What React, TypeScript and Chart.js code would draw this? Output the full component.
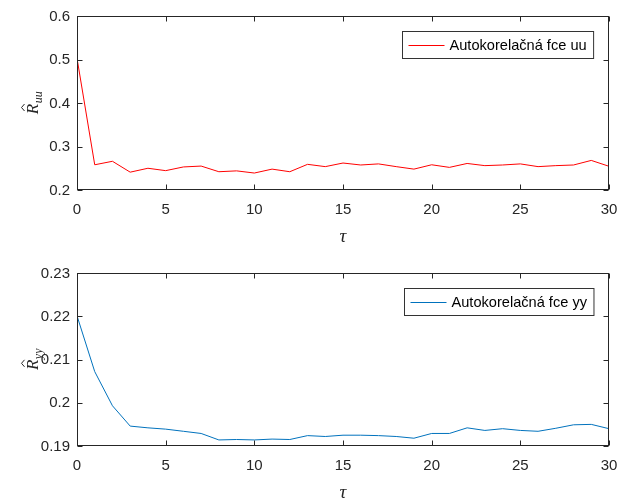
import React, { useEffect, useRef } from "react";
import { Chart, registerables } from "chart.js";

Chart.register(...registerables);

// Lag values
const tau = [0, 1, 2, 3, 4, 5, 6, 7, 8, 9, 10, 11, 12, 13, 14, 15, 16, 17, 18, 19, 20, 21, 22, 23, 24, 25, 26, 27, 28, 29, 30];

// Input autocorrelation estimate
const ruu = [
  0.503, 0.258, 0.266, 0.241, 0.25, 0.2445, 0.253, 0.255, 0.242, 0.244, 0.239,
  0.248, 0.242, 0.259, 0.2537, 0.262, 0.2575, 0.26, 0.2537, 0.248, 0.258,
  0.252, 0.261, 0.256, 0.2575, 0.26, 0.2537, 0.256, 0.2575, 0.268, 0.2545,
];

// Output autocorrelation estimate
const ryy = [
  0.2201, 0.2072, 0.1993, 0.1946, 0.1942, 0.1939, 0.1934, 0.1929, 0.1914,
  0.1915, 0.1914, 0.1916, 0.1915, 0.1924, 0.1922, 0.1925, 0.1925, 0.1924,
  0.1922, 0.1918, 0.1929, 0.1929, 0.1942, 0.1936, 0.194, 0.1936, 0.1934,
  0.1941, 0.1949, 0.195, 0.194,
];

const xTicks = [0, 5, 10, 15, 20, 25, 30];
const yTicksUU = [0.2, 0.3, 0.4, 0.5, 0.6];
const yTicksYY = [0.19, 0.2, 0.21, 0.22, 0.23];

const labelUU = "Autokorelačná fce uu";
const labelYY = "Autokorelačná fce yy";

const AXIS_COLOR = "#262626";
const SANS = "'Liberation Sans', Arial, sans-serif";
const SERIF = "'Liberation Serif', 'DejaVu Serif', serif";

type PanelOpts = {
  values: number[];
  color: string;
  label: string;
  yTicks: number[];
  sub: string;
  padTop: number;
  xHeight: number;
};

// Draws the MATLAB-like box, inward ticks, tick labels, legend and axis labels
const decorPlugin = {
  id: "decor",
  afterDraw(chart: any) {
    const o = chart.options.plugins.decor as PanelOpts;
    const ctx: CanvasRenderingContext2D = chart.ctx;
    const { left, right, top, bottom } = chart.chartArea;
    const L = Math.round(left) + 0.5;
    const R = Math.round(right) - 0.5;
    const T = Math.round(top) + 0.5;
    const B = Math.round(bottom) - 0.5;
    const xs = chart.scales.x;
    const ys = chart.scales.y;

    ctx.save();
    ctx.strokeStyle = AXIS_COLOR;
    ctx.lineWidth = 1;
    ctx.strokeRect(L, T, R - L, B - T);

    const tl = 5;
    ctx.beginPath();
    for (const v of xTicks) {
      const px = Math.round(xs.getPixelForValue(v)) + 0.5;
      ctx.moveTo(px, B);
      ctx.lineTo(px, B - tl);
      ctx.moveTo(px, T);
      ctx.lineTo(px, T + tl);
    }
    for (const v of o.yTicks) {
      const py = Math.round(ys.getPixelForValue(v)) + 0.5;
      ctx.moveTo(L, py);
      ctx.lineTo(L + tl, py);
      ctx.moveTo(R, py);
      ctx.lineTo(R - tl, py);
    }
    ctx.stroke();

    // tick labels
    ctx.fillStyle = AXIS_COLOR;
    ctx.font = `15px ${SANS}`;
    ctx.textBaseline = "middle";
    ctx.textAlign = "center";
    for (const v of xTicks) {
      ctx.fillText(String(v), xs.getPixelForValue(v), bottom + 20);
    }
    ctx.textAlign = "right";
    for (const v of o.yTicks) {
      ctx.fillText(String(v), left - 7, ys.getPixelForValue(v) + 0.5);
    }

    // legend
    ctx.font = `14.6px ${SANS}`;
    const tw = ctx.measureText(o.label).width;
    const boxW = 6 + 36 + 5 + tw + 7;
    const boxH = 27;
    const bx = Math.round(right - 16 - boxW) + 0.5;
    const by = Math.round(top + 15) + 0.5;
    ctx.fillStyle = "#ffffff";
    ctx.fillRect(bx, by, boxW, boxH);
    ctx.strokeStyle = "#333333";
    ctx.strokeRect(bx, by, boxW, boxH);
    const cy = by + boxH / 2;
    ctx.strokeStyle = o.color;
    ctx.beginPath();
    ctx.moveTo(bx + 6, Math.round(cy) + 0.5);
    ctx.lineTo(bx + 42, Math.round(cy) + 0.5);
    ctx.stroke();
    ctx.fillStyle = "#000000";
    ctx.textBaseline = "middle";
    ctx.textAlign = "left";
    ctx.fillText(o.label, bx + 47, cy + 0.5);

    // x-axis label (tau)
    ctx.fillStyle = AXIS_COLOR;
    ctx.font = `italic 19px ${SERIF}`;
    ctx.textAlign = "center";
    ctx.textBaseline = "alphabetic";
    ctx.fillText("τ", (left + right) / 2, bottom + 52);

    // y-axis label: R-hat with subscript
    const cyMid = (top + bottom) / 2;
    ctx.translate(38, cyMid);
    ctx.rotate(-Math.PI / 2);
    ctx.font = `italic 17px ${SERIF}`;
    const wR = ctx.measureText("R").width;
    ctx.font = `italic 12px ${SERIF}`;
    const wS = ctx.measureText(o.sub).width;
    const x0 = -(wR + wS) / 2;
    ctx.textAlign = "left";
    ctx.font = `italic 17px ${SERIF}`;
    ctx.fillText("R", x0, 0);
    ctx.font = `italic 12px ${SERIF}`;
    ctx.fillText(o.sub, x0 + wR + 0.5, 3.5);
    // hat
    const hx = x0 + wR / 2 + 1.5;
    ctx.strokeStyle = AXIS_COLOR;
    ctx.lineWidth = 1;
    ctx.beginPath();
    ctx.moveTo(hx - 3.5, -13.5);
    ctx.lineTo(hx, -16.5);
    ctx.lineTo(hx + 3.5, -13.5);
    ctx.stroke();
    ctx.restore();
  },
};

function makeConfig(o: PanelOpts): any {
  return {
    type: "line",
    data: {
      datasets: [
        {
          label: o.label,
          data: tau.map((t, i) => ({ x: t, y: o.values[i] })),
          borderColor: o.color,
          borderWidth: 1,
          pointRadius: 0,
          tension: 0,
          fill: false,
        },
      ],
    },
    options: {
      responsive: false,
      animation: false,
      events: [],
      layout: { padding: { top: o.padTop, right: 10, left: 0, bottom: 0 } },
      plugins: {
        legend: { display: false },
        tooltip: { enabled: false },
        decor: o,
      },
      scales: {
        x: {
          type: "linear",
          min: 0,
          max: 30,
          grid: { display: false },
          border: { display: false },
          afterBuildTicks: (s: any) => {
            s.ticks = xTicks.map((v) => ({ value: v }));
          },
          afterFit: (s: any) => {
            s.height = o.xHeight;
          },
          ticks: { display: false },
        },
        y: {
          type: "linear",
          min: o.yTicks[0],
          max: o.yTicks[o.yTicks.length - 1],
          grid: { display: false },
          border: { display: false },
          afterBuildTicks: (s: any) => {
            s.ticks = o.yTicks.map((v) => ({ value: v }));
          },
          afterFit: (s: any) => {
            s.width = 77;
          },
          ticks: { display: false },
        },
      },
    },
    plugins: [decorPlugin],
  };
}

function Panel({ opts, height }: { opts: PanelOpts; height: number }) {
  const ref = useRef<HTMLCanvasElement | null>(null);
  useEffect(() => {
    if (!ref.current) return;
    const chart = new Chart(ref.current, makeConfig(opts));
    return () => chart.destroy();
  }, []);
  return (
    <canvas
      ref={ref}
      width={619}
      height={height}
      style={{ display: "block", width: 619, height }}
    />
  );
}

export default function App() {
  return (
    <div
      style={{
        position: "absolute",
        left: 0,
        top: 0,
        width: 619,
        height: 501,
        background: "#ffffff",
      }}
    >
      <Panel
        height={250}
        opts={{
          values: ruu,
          color: "#ff0000",
          label: labelUU,
          yTicks: yTicksUU,
          sub: "uu",
          padTop: 16,
          xHeight: 60,
        }}
      />
      <Panel
        height={251}
        opts={{
          values: ryy,
          color: "#0072bd",
          label: labelYY,
          yTicks: yTicksYY,
          sub: "yy",
          padTop: 23,
          xHeight: 55,
        }}
      />
    </div>
  );
}
